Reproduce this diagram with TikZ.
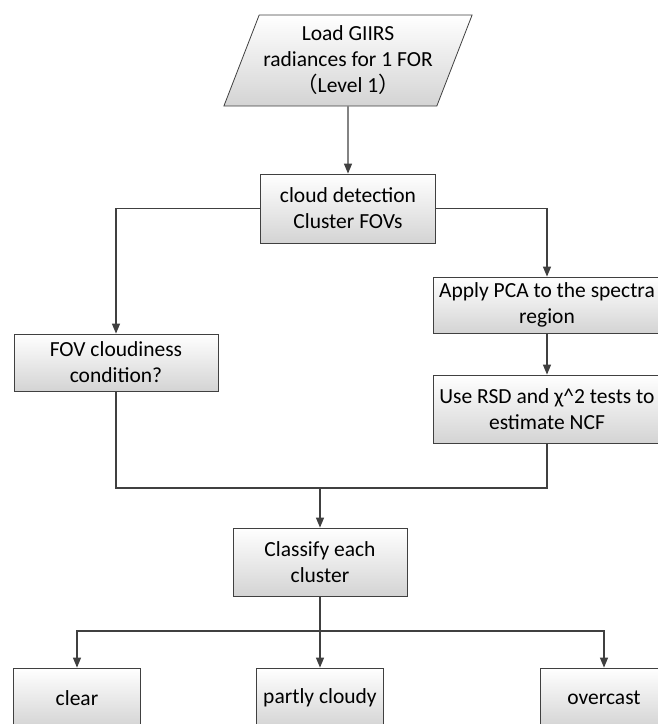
\documentclass[tikz,border=0pt]{standalone}
\usepackage{fontspec}
\setmainfont{Carlito}
\newfontfamily\cjk{Noto Sans CJK SC}
\usepackage{tikz}
\usetikzlibrary{arrows.meta,shapes.geometric}

\begin{document}
\begin{tikzpicture}[x=1pt,y=-1pt]
        \tikzset{procbox/.style = {shape=rectangle,draw=black!75,line width=0.8pt,top color=white,bottom color=black!17,inner sep=0pt,align=center,font=\fontsize{21.5}{26}\selectfont}}
        \tikzset{iobox/.style = {procbox,shape=trapezium,trapezium left angle=64,trapezium right angle=116,trapezium stretches=true,minimum width=249pt,minimum height=91pt}}
        \tikzset{edge/.style = {-,draw=black!75,line width=1.3pt}}
        \tikzset{edgearrow/.style = {edge,-{Triangle[length=10pt,width=8pt]}}}

        \useasboundingbox (0,0) rectangle (658,724);

        \node[iobox] (load) at (348, 60.5) {Load GIIRS\\radiances for 1 FOR\\{\cjk （}Level 1{\cjk ）}};
        \node[procbox,minimum width=175pt,minimum height=69pt] (cloud) at (348, 208.5) {cloud detection\\Cluster FOVs};

        \node[procbox,minimum width=204pt,minimum height=57pt] (fov) at (116, 362.5) {FOV cloudiness\\condition?};
        \node[procbox,minimum width=228pt,minimum height=56pt] (pca) at (547, 305) {Apply PCA to the spectra\\region};
        \node[procbox,minimum width=228pt,minimum height=68pt] (rsd) at (547, 409) {Use RSD and χ\^{}2 tests to\\estimate NCF};

        \node[procbox,minimum width=174pt,minimum height=68pt] (classify) at (320, 562) {Classify each\\cluster};

        \node[procbox,minimum width=127pt,minimum height=60pt] (clear) at (77, 698) {clear};
        \node[procbox,minimum width=127pt,minimum height=60pt] (partly) at (320, 698) {partly cloudy};
        \node[procbox,minimum width=127pt,minimum height=60pt] (overcast) at (604, 698) {overcast};

        \coordinate (join) at (320, 488);
        \coordinate (split) at (320, 631);

        \draw[edgearrow] (load) to (cloud);
        \draw[edgearrow] (cloud.west) -| (fov);
        \draw[edgearrow] (cloud.east) -| (pca);
        \draw[edgearrow] (pca) to (rsd);

        \draw[edge] (fov.south) |- (join) -| (rsd.south);
        \draw[edgearrow] (join) to (classify);

        \draw[edge] (classify) to (split);
        \draw[edgearrow] (split) -| (clear.north);
        \draw[edgearrow] (split) to (partly);
        \draw[edgearrow] (split) -| (overcast.north);
    \end{tikzpicture}
\end{document}
